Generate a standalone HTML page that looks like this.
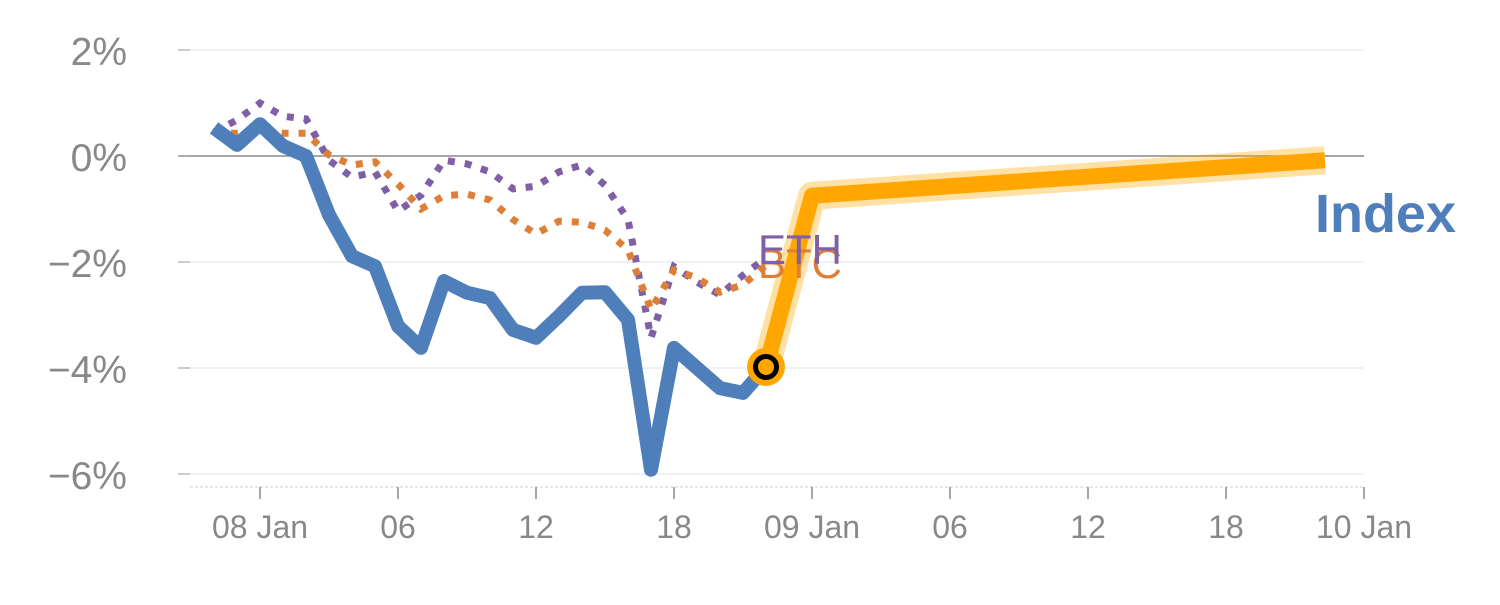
<!DOCTYPE html>
<html><head><meta charset="utf-8"><style>
body{margin:0;background:#fff}
svg text{font-family:"Liberation Sans",sans-serif}
</style></head><body>
<svg id="c" width="1500" height="600" viewBox="0 0 1500 600"></svg>
<script>
const hours=[-2,-1,0,1,2,3,4,5,6,7,8,9,10,11,12,13,14,15,16,17,18,19,20,21,22];
const indexVals=[0.53,0.21,0.6,0.19,0,-1.11,-1.89,-2.08,-3.21,-3.62,-2.36,-2.58,-2.68,-3.28,-3.43,-3.02,-2.58,-2.57,-3.09,-5.92,-3.62,-4.0,-4.38,-4.47,-3.98];
const ethVals=[0.45,0.68,1.0,0.75,0.7,-0.08,-0.4,-0.3,-1.04,-0.74,-0.08,-0.15,-0.3,-0.62,-0.57,-0.3,-0.17,-0.55,-1.2,-3.43,-2.09,-2.38,-2.62,-2.25,-1.92];
const btcVals=[0.43,0.43,0.49,0.43,0.43,0.02,-0.17,-0.11,-0.53,-1.0,-0.75,-0.72,-0.83,-1.2,-1.47,-1.23,-1.25,-1.4,-1.77,-2.9,-2.15,-2.3,-2.57,-2.43,-2.06];
const fcHours=[22,24,46.3];
const fcVals=[-3.98,-0.75,-0.08];
const yTicks=[2,0,-2,-4,-6];
const yTickLabels=["2%","0%","\u22122%","\u22124%","\u22126%"];
const xTicks=[0,6,12,18,24,30,36,42,48];
const xTickLabels=["08 Jan","06","12","18","09 Jan","06","12","18","10 Jan"];

const svg=document.getElementById('c');
const NS="http://www.w3.org/2000/svg";
const X=h=>260+23*h;
const Y=v=>156-53*v;
function mk(tag,attrs,parent){const e=document.createElementNS(NS,tag);for(const k in attrs)e.setAttribute(k,attrs[k]);(parent||svg).appendChild(e);return e;}

yTicks.forEach((t,i)=>{
  const g=mk('line',{x1:178,x2:1364,y1:Y(t),y2:Y(t),stroke:t===0?'#888':'#e3e3e3','stroke-width':t===0?1.5:1});
  
  
  const tk=mk('line',{x1:178,x2:190,y1:Y(t),y2:Y(t),stroke:'#999','stroke-width':1});
  
  
  const tx=mk('text',{x:127,y:Y(t)+15,'text-anchor':'end','font-size':39,fill:'#888'});
  tx.textContent=yTickLabels[i];
  
  
});
const base=mk('line',{x1:190,x2:1364,y1:487,y2:487,stroke:'#ddd','stroke-width':1.5,'stroke-dasharray':'3,2'});


xTicks.forEach((t,i)=>{
  const tk=mk('line',{x1:X(t),x2:X(t),y1:487,y2:499,stroke:'#888','stroke-width':1.5});
  
  
  const tx=mk('text',{x:X(t),y:538,'text-anchor':'middle','font-size':32,fill:'#888'});
  tx.textContent=xTickLabels[i];
  
  
});
const pts=(hs,vs)=>hs.map((h,i)=>X(h)+','+Y(vs[i])).join(' ');

const eth=mk('polyline',{points:pts(hours,ethVals),fill:'none',stroke:'#7f5fa6','stroke-width':7,'stroke-dasharray':'7,10'});


const btc=mk('polyline',{points:pts(hours,btcVals),fill:'none',stroke:'#dd7f36','stroke-width':7,'stroke-dasharray':'7,10'});



const idx=mk('polyline',{points:pts(hours,indexVals),fill:'none',stroke:'#4e7fbb','stroke-width':14,'stroke-linejoin':'round'});



const halo=mk('polyline',{points:pts(fcHours,fcVals),fill:'none',stroke:'rgba(255,170,0,0.35)','stroke-width':28,'stroke-linejoin':'round'});


const fc=mk('polyline',{points:pts(fcHours,fcVals),fill:'none',stroke:'#ffa600','stroke-width':16,'stroke-linejoin':'round'});



const lx=X(hours[hours.length-1]), ly=Y(indexVals[indexVals.length-1]);
const m1=mk('circle',{cx:lx,cy:ly,r:19,fill:'#ffa600'});


mk('circle',{cx:lx,cy:ly,r:10.5,fill:'#ffa600',stroke:'#000','stroke-width':5});

const bl=mk('text',{x:758,y:278,'font-size':42,fill:'#dd7f36'});
bl.textContent='BTC';


const el=mk('text',{x:758,y:264,'font-size':42,fill:'#7f5fa6'});
el.textContent='ETH';


const il=mk('text',{x:1456,y:232,'text-anchor':'end','font-size':54,'font-weight':'bold',fill:'#4e7fbb'});
il.textContent='Index';


</script>
</body></html>
